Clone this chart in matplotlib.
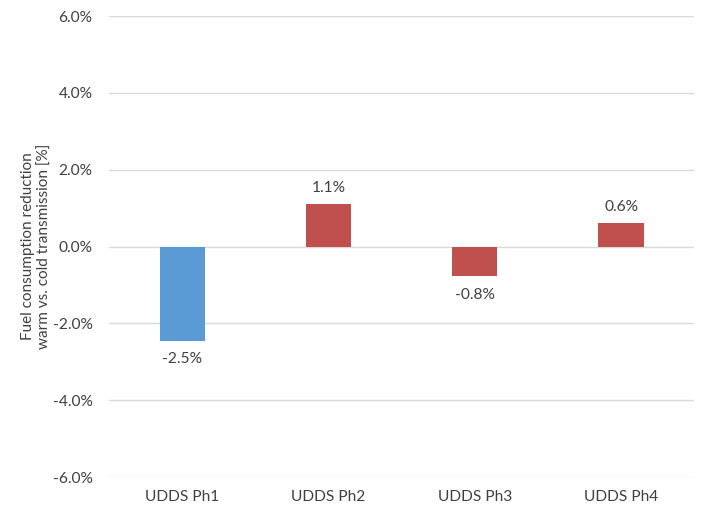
import matplotlib
matplotlib.use("Agg")
import matplotlib.pyplot as plt
from matplotlib.ticker import FuncFormatter

categories = ["UDDS Ph1", "UDDS Ph2", "UDDS Ph3", "UDDS Ph4"]
values = [-2.46, 1.10, -0.78, 0.60]
labels = ["-2.5%", "1.1%", "-0.8%", "0.6%"]
colors = ["#5B9BD5", "#C0504D", "#C0504D", "#C0504D"]

plt.rcParams['font.family'] = ['Lato', 'DejaVu Sans']

fig = plt.figure(figsize=(7.04, 5.08), dpi=100)
ax = fig.add_axes([0.155, 0.061, 0.831, 0.9075])

x = range(len(categories))
ax.bar(x, values, width=0.31, color=colors, zorder=3)

ax.set_ylim(-6, 6)
ax.set_xlim(-0.5, len(categories) - 0.5)
ax.set_yticks([-6, -4, -2, 0, 2, 4, 6])
ax.yaxis.set_major_formatter(FuncFormatter(lambda v, p: f"{v:.1f}%"))
ax.set_xticks(list(x))
ax.set_xticklabels(categories)
ax.grid(axis='y', color='#D9D9D9', linewidth=1, zorder=0)
for s in ax.spines.values():
    s.set_visible(False)
ax.tick_params(axis='both', length=0, labelsize=11.2, colors='#404040')
ax.tick_params(axis='y', pad=12)
ax.tick_params(axis='x', pad=9)

for xi, v, lab in zip(x, values, labels):
    off = 12 if v >= 0 else -13
    ax.annotate(lab, (xi, v), xytext=(0, off), textcoords='offset points',
                ha='center', va='center', fontsize=11.2, color='#404040')

ax.set_ylabel("Fuel consumption reduction\nwarm vs. cold transmission [%]",
              fontsize=11, color='#404040', linespacing=1.25)
ax.yaxis.set_label_coords(-0.098, 0.5)

fig.savefig("out.png", dpi=100)
